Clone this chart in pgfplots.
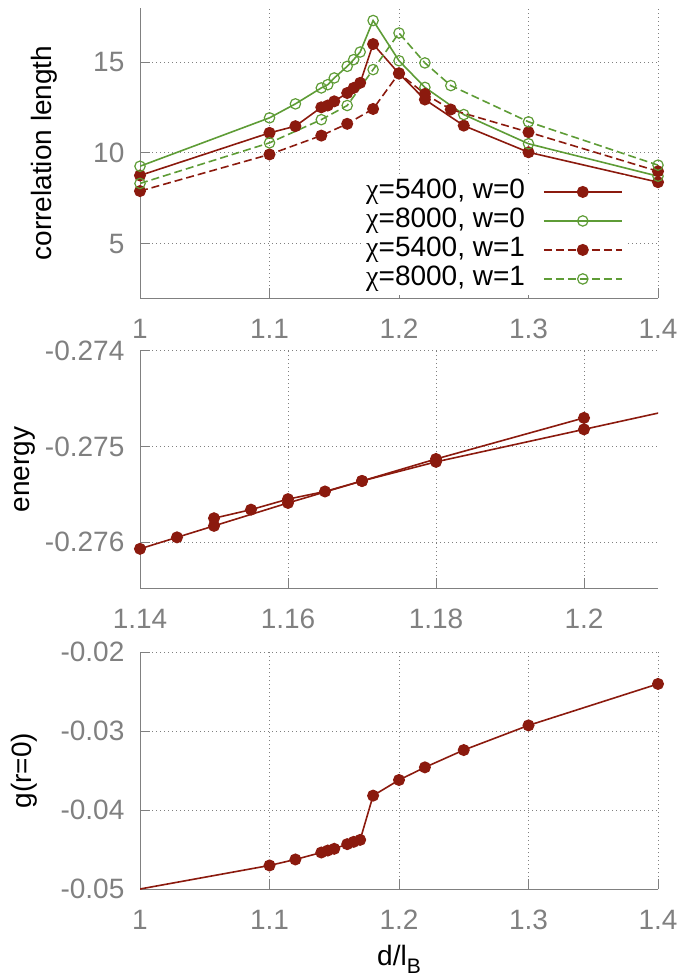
\documentclass[border=0pt]{standalone}
\usepackage{fontspec}
\setmainfont{Liberation Sans}
\newfontfamily\chifont{Liberation Serif}
\usepackage{pgfplots}
\pgfplotsset{compat=1.18}
\definecolor{cred}{HTML}{8B1A0E}
\definecolor{cgreen}{HTML}{5E9C36}
\definecolor{cgray}{HTML}{808080}
\newcommand\fs{\fontsize{14}{16.8}\selectfont}
\pgfplotsset{
  myax/.style={
    scale only axis, width=259pt,
    scaled x ticks=false, scaled y ticks=false,
    axis x line*=bottom, axis y line*=left,
    axis line style={cgray, line width=0.5pt},
    tick style={cgray, line width=0.5pt},
    major tick length=5pt, tick align=inside,
    grid=major,
    grid style={cgray, line width=0.5pt, dash pattern=on 0.5pt off 1.5pt},
    tick label style={font=\fs, text=cgray},
    xticklabel style={anchor=base, yshift=-20pt},
    yticklabel style={anchor=east, xshift=-4.3pt},
    label style={font=\fs},
    ylabel style={anchor=base, rotate=0},
  },
  s1/.style={cred, line width=0.8pt, solid, mark=*, mark size=2.6pt, mark options={solid, fill=cred, draw=cred}},
  s2/.style={cgreen, line width=0.8pt, solid, mark=o, mark size=2.6pt, mark options={solid, line width=0.6pt}},
  s3/.style={cred, line width=0.8pt, dash pattern=on 4pt off 2pt, mark=*, mark size=2.6pt, mark options={solid, fill=cred, draw=cred}},
  s4/.style={cgreen, line width=0.8pt, dash pattern=on 4pt off 2pt, mark=o, mark size=2.6pt, mark options={solid, line width=0.6pt}},
}
\begin{document}
\begin{tikzpicture}
\useasboundingbox (0,0) rectangle (341.5pt,-489pt);
% ---------------- top panel
\begin{axis}[myax,
  at={(70pt,-149pt)}, anchor=south west, height=145pt,
  xmin=1, xmax=1.4, ymin=2, ymax=18,
  xtick={1,1.1,1.2,1.3,1.4}, xticklabels={1,1.1,1.2,1.3,1.4},
  ytick={5,10,15}, yticklabels={5,10,15},
  ylabel={correlation length},
  ylabel style={at={(axis description cs:-0.170,0.5)}},
  legend plot pos=right, legend cell align=right,
  legend image code/.code={\draw[mark repeat=2,mark phase=2,#1] plot coordinates {(0pt,0pt) (19.5pt,0pt) (39pt,0pt)};},
  legend style={draw=none, fill=white, inner sep=1pt, font=\fs,
    at={(axis description cs:0.9363,0.424)}, anchor=north east,
    column sep=9pt, row sep=0pt,
    nodes={inner sep=0pt, text height=10.5pt, text depth=4pt}},
]
\addplot[s1] coordinates {(1.0,8.76) (1.1,11.11) (1.12,11.48) (1.14,12.52) (1.145,12.62) (1.15,12.85) (1.16,13.31) (1.165,13.59) (1.17,13.87) (1.18,16.01) (1.2,14.38) (1.22,12.95) (1.25,11.51) (1.3,10.04) (1.4,8.39)};
\addlegendentry{{\chifont χ}=5400, w=0}
\addplot[s2] coordinates {(1.0,9.27) (1.1,11.94) (1.12,12.71) (1.14,13.59) (1.145,13.77) (1.15,14.14) (1.16,14.78) (1.165,15.15) (1.17,15.57) (1.18,17.31) (1.2,15.09) (1.22,13.62) (1.25,12.12) (1.3,10.51) (1.4,8.72)};
\addlegendentry{{\chifont χ}=8000, w=0}
\addplot[s3] coordinates {(1.0,7.90) (1.1,9.92) (1.14,10.96) (1.16,11.61) (1.18,12.43) (1.2,14.40) (1.22,13.26) (1.24,12.40) (1.3,11.15) (1.4,8.99)};
\addlegendentry{{\chifont χ}=5400, w=1}
\addplot[s4] coordinates {(1.0,8.32) (1.1,10.56) (1.14,11.84) (1.16,12.62) (1.18,14.60) (1.2,16.62) (1.22,14.97) (1.24,13.72) (1.3,11.72) (1.4,9.33)};
\addlegendentry{{\chifont χ}=8000, w=1}
\end{axis}
% ---------------- middle panel
\begin{axis}[myax,
  at={(70pt,-294pt)}, anchor=south west, height=118.5pt,
  xmin=1.14, xmax=1.21, ymin=-0.27648, ymax=-0.274,
  xtick={1.14,1.16,1.18,1.2}, xticklabels={1.14,1.16,1.18,1.2},
  ytick={-0.276,-0.275,-0.274}, yticklabels={-0.276,-0.275,-0.274},
  ylabel={energy},
  ylabel style={at={(axis description cs:-0.2133,0.5)}},
]
\addplot[s1] coordinates {(1.15,-0.27575) (1.155,-0.27566) (1.16,-0.27555) (1.165,-0.27547) (1.17,-0.27536) (1.18,-0.27513) (1.2,-0.27470)};
\addplot[s1] coordinates {(1.14,-0.27607) (1.145,-0.27595) (1.15,-0.27583) (1.16,-0.27559) (1.17,-0.27536) (1.18,-0.27516) (1.2,-0.27482)};
\addplot[cred, line width=0.8pt, no marks] coordinates {(1.2,-0.27482) (1.22,-0.27448)};
\end{axis}
% ---------------- bottom panel
\begin{axis}[myax,
  at={(70pt,-444.5pt)}, anchor=south west, height=118.5pt,
  xmin=1, xmax=1.4, ymin=-0.05, ymax=-0.02,
  xtick={1,1.1,1.2,1.3,1.4}, xticklabels={1,1.1,1.2,1.3,1.4},
  ytick={-0.05,-0.04,-0.03,-0.02}, yticklabels={-0.05,-0.04,-0.03,-0.02},
  ylabel={g(r=0)},
  ylabel style={at={(axis description cs:-0.21,0.5)}},
  xlabel={d/l\raisebox{-4pt}{\fontsize{10.5}{12}\selectfont B}},
  xlabel style={at={(axis description cs:0.5,0)}, anchor=base, yshift=-38pt},
]
\addplot[cred, line width=0.8pt, no marks] coordinates {(1.0,-0.0500) (1.1,-0.04702)};
\addplot[s1] coordinates {(1.1,-0.04702) (1.12,-0.04626) (1.14,-0.04538) (1.145,-0.04513) (1.15,-0.04491) (1.16,-0.04432) (1.165,-0.04403) (1.17,-0.04378) (1.18,-0.03818) (1.2,-0.03620) (1.22,-0.03460) (1.25,-0.03241) (1.3,-0.02929) (1.4,-0.02404)};
\end{axis}
\end{tikzpicture}
\end{document}
